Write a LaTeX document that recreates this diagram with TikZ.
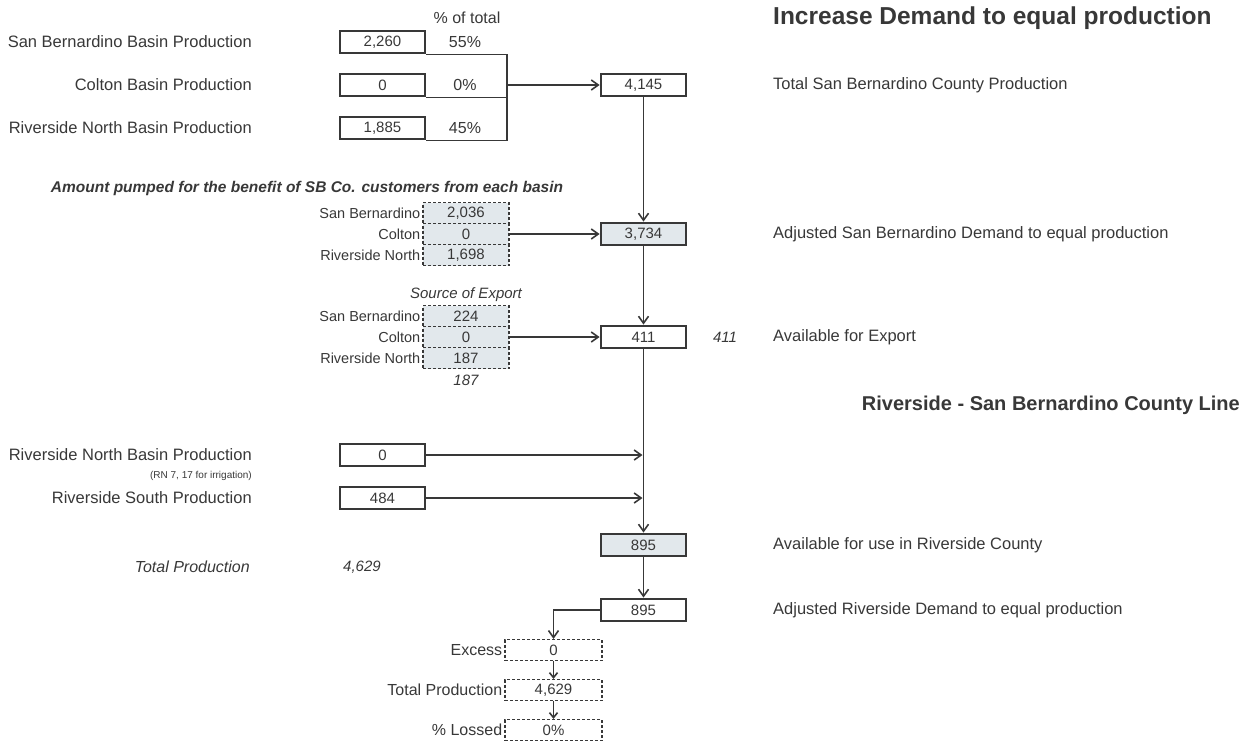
\documentclass[tikz,border=0pt]{standalone}
\usepackage{fontspec}
\setmainfont{Liberation Sans}
\usetikzlibrary{arrows.meta}
\definecolor{ink}{HTML}{383838}
\definecolor{cellfill}{HTML}{E2E8EC}
\newcommand{\fs}[1]{\fontsize{#1}{#1}\selectfont}
\tikzset{
  lbl/.style={anchor=east,inner sep=0pt,font=\fs{16.5}},
  rlbl/.style={anchor=west,inner sep=0pt,font=\fs{16.5}},
  clbl/.style={anchor=east,inner sep=0pt,font=\fs{14.5}},
  valbox/.style={draw=ink,line width=2.8pt,minimum width=85pt,minimum height=22pt,inner sep=0pt,font=\fs{15}},
  cell/.style={draw=ink,line width=1.2pt,dash pattern=on 3pt off 2pt,minimum width=86pt,minimum height=21pt,inner sep=0pt,font=\fs{15}},
  flow/.style={draw=ink,line width=1.6pt,-{Straight Barb[length=7pt,width=10pt]}},
  link/.style={draw=ink,line width=1.5pt},
}
\begin{document}
\begin{tikzpicture}[x=1pt,y=-1pt,color=ink,line join=miter]
  \useasboundingbox (0,0) rectangle (1241,742);
  \node[anchor=west,inner sep=0pt,font=\bfseries\fs{24.5}] (title) at (773,18) {Increase Demand to equal production};
  \node[inner sep=0pt,font=\fs{16}] (pct) at (467,18) {\% of total};
  % basin production
  \node[lbl] (sbl) at (252,42) {San Bernardino Basin Production};
  \node[valbox] (sb) at (382.5,42) {2,260};
  \node[inner sep=0pt,font=\fs{16}] (sbp) at (465,42) {55\%};
  \node[lbl] (cbl) at (252,85) {Colton Basin Production};
  \node[valbox] (cb) at (382.5,85) {0};
  \node[inner sep=0pt,font=\fs{16}] (cbp) at (465,85) {0\%};
  \node[lbl] (rnl) at (252,128) {Riverside North Basin Production};
  \node[valbox] (rn) at (382.5,128) {1,885};
  \node[inner sep=0pt,font=\fs{16}] (rnp) at (465,128) {45\%};
  \coordinate (brk) at (507,85);
  \draw[link] (sb.south east) -- (sb.south east -| brk) -- (rn.south east -| brk) -- (rn.south east);
  \draw[link] (cb.south east) -- (cb.south east -| brk);
  \node[valbox] (sbtot) at (643.5,85) {4,145};
  \draw[flow] (brk) -- (sbtot);
  \node[rlbl] (sbtotl) at (773,85) {Total San Bernardino County Production};
  % pumped for SB customers
  \node[inner sep=0pt,font=\bfseries\itshape\fs{15.5}] (hdr) at (307,188) {Amount pumped for the benefit of SB Co. customers from each basin};
  \node[cell,fill=cellfill] (p1) at (466,213) {2,036};
  \node[cell,fill=cellfill] (p2) at (466,234) {0};
  \node[cell,fill=cellfill] (p3) at (466,255) {1,698};
  \node[clbl] at ([xshift=-2pt]p1.west) {San Bernardino};
  \node[clbl] at ([xshift=-2pt]p2.west) {Colton};
  \node[clbl] at ([xshift=-2pt]p3.west) {Riverside North};
  \node[valbox,fill=cellfill] (adj) at (643.5,234) {3,734};
  \draw[flow] (sbtot) -- (adj);
  \draw[flow] (p2) -- (adj);
  \node[rlbl] (adjl) at (773,234) {Adjusted San Bernardino Demand to equal production};
  % export
  \node[inner sep=0pt,font=\itshape\fs{15}] (srch) at (466,295) {Source of Export};
  \node[cell,fill=cellfill] (e1) at (466,316) {224};
  \node[cell,fill=cellfill] (e2) at (466,337) {0};
  \node[cell,fill=cellfill] (e3) at (466,358) {187};
  \node[clbl] at ([xshift=-2pt]e1.west) {San Bernardino};
  \node[clbl] at ([xshift=-2pt]e2.west) {Colton};
  \node[clbl] at ([xshift=-2pt]e3.west) {Riverside North};
  \node[inner sep=0pt,font=\itshape\fs{15}] (esum) at (466,380) {187};
  \node[valbox] (exp) at (643.5,337) {411};
  \draw[flow] (adj) -- (exp);
  \draw[flow] (e2) -- (exp);
  \node[inner sep=0pt,font=\itshape\fs{15}] (expv) at (725,337) {411};
  \node[rlbl] (expl) at (773,337) {Available for Export};
  \node[anchor=east,inner sep=0pt,font=\bfseries\fs{20}] (cline) at (1240,405) {Riverside - San Bernardino County Line};
  % riverside county
  \node[lbl] (rn2l) at (252,455) {Riverside North Basin Production};
  \node[valbox] (rn2) at (382.5,455) {0};
  \node[anchor=east,inner sep=0pt,font=\fs{10}] (rnnote) at (252,476) {(RN 7, 17 for irrigation)};
  \node[lbl] (rsl) at (252,498) {Riverside South Production};
  \node[valbox] (rs) at (382.5,498) {484};
  \node[valbox,fill=cellfill] (use) at (643.5,545) {895};
  \draw[flow] (exp) -- (use);
  \draw[flow,shorten >=1pt] (rn2) -- (rn2 -| use);
  \draw[flow,shorten >=1pt] (rs) -- (rs -| use);
  \node[rlbl] (usel) at (773,545) {Available for use in Riverside County};
  \node[anchor=east,inner sep=0pt,font=\itshape\fs{16}] (totl) at (250,567) {Total Production};
  \node[anchor=west,inner sep=0pt,font=\itshape\fs{15}] (totv) at (343,567) {4,629};
  \node[valbox] (adjr) at (643.5,610) {895};
  \draw[flow] (use) -- (adjr);
  \node[rlbl] (adjrl) at (773,610) {Adjusted Riverside Demand to equal production};
  % balance
  \node[cell,minimum width=97pt] (exc) at (553.5,650) {0};
  \node[cell,minimum width=97pt] (totp) at (553.5,690) {4,629};
  \node[cell,minimum width=97pt] (loss) at (553.5,730) {0\%};
  \node[clbl,font=\fs{16}] at ([xshift=-2pt]exc.west) {Excess};
  \node[clbl,font=\fs{16}] at ([xshift=-2pt]totp.west) {Total Production};
  \node[clbl,font=\fs{16}] at ([xshift=-2pt]loss.west) {\% Lossed};
  \draw[flow] (adjr.west) -| (exc.north);
  \draw[flow,-{Straight Barb[length=5pt,width=8pt]}] (exc) -- (totp);
  \draw[flow,-{Straight Barb[length=5pt,width=8pt]}] (totp) -- (loss);
\end{tikzpicture}
\end{document}
